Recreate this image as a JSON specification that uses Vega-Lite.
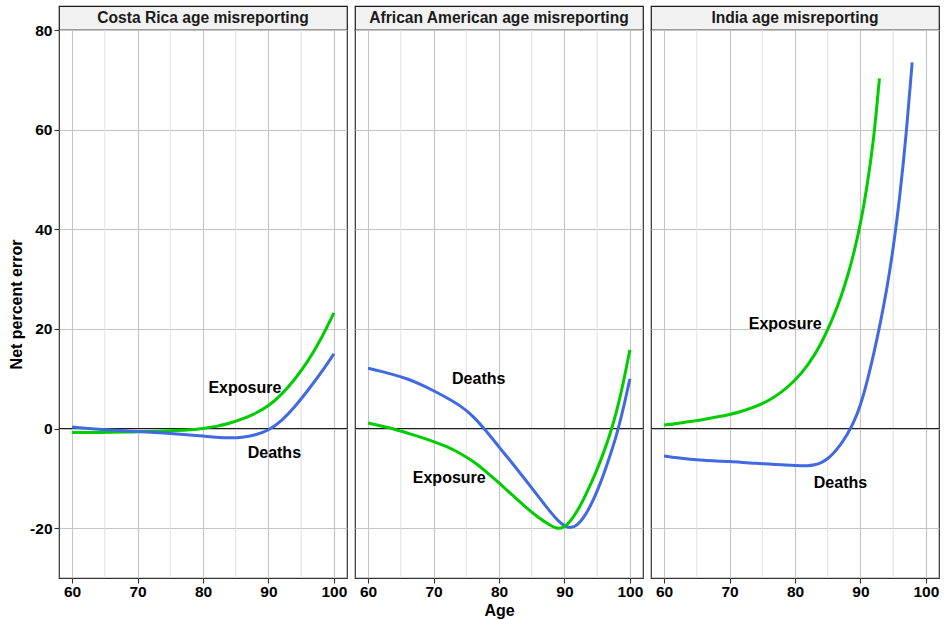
{
  "$schema": "https://vega.github.io/schema/vega-lite/v6.json",
  "background": "white",
  "padding": {"left": 7, "top": 5, "right": 3, "bottom": 3},
  "config": {
    "font": "Liberation Sans",
    "axis": {
      "labelFont": "Liberation Sans", "labelFontWeight": "bold", "labelFontSize": 15.5, "labelColor": "#000000",
      "titleFont": "Liberation Sans", "titleFontWeight": "bold", "titleFontSize": 16, "titleColor": "#000000",
      "tickColor": "#333333", "tickSize": 5, "tickWidth": 1.1, "domain": false,
      "gridColor": "#c4c4c4", "gridWidth": 1.1, "labelFlush": false, "labelPadding": 1,
      "labelExpr": "'' + datum.value"
    }
  },
  "datasets": {
    "panels": [
      {"p": "CR", "title": "Costa Rica age misreporting"},
      {"p": "AA", "title": "African American age misreporting"},
      {"p": "IN", "title": "India age misreporting"}
    ],
    "minor": [{"age": 65}, {"age": 75}, {"age": 85}, {"age": 95}],
    "zero": [{"v": 0}],
    "labels": [
      {"p": "CR", "age": 86.4, "v": 8.1, "t": "Exposure"},
      {"p": "CR", "age": 90.9, "v": -4.9, "t": "Deaths"},
      {"p": "AA", "age": 76.9, "v": 10.0, "t": "Deaths"},
      {"p": "AA", "age": 72.4, "v": -9.9, "t": "Exposure"},
      {"p": "IN", "age": 78.5, "v": 20.9, "t": "Exposure"},
      {"p": "IN", "age": 86.95, "v": -11.0, "t": "Deaths"}
    ],
    "curves": [
      {"p": "CR", "s": "Exposure", "age": 60, "v": -0.8},
      {"p": "CR", "s": "Exposure", "age": 62, "v": -0.8},
      {"p": "CR", "s": "Exposure", "age": 64, "v": -0.8},
      {"p": "CR", "s": "Exposure", "age": 66, "v": -0.75},
      {"p": "CR", "s": "Exposure", "age": 68, "v": -0.7},
      {"p": "CR", "s": "Exposure", "age": 70, "v": -0.65},
      {"p": "CR", "s": "Exposure", "age": 72, "v": -0.6},
      {"p": "CR", "s": "Exposure", "age": 74, "v": -0.5},
      {"p": "CR", "s": "Exposure", "age": 76, "v": -0.4},
      {"p": "CR", "s": "Exposure", "age": 78, "v": -0.25},
      {"p": "CR", "s": "Exposure", "age": 80, "v": 0.0},
      {"p": "CR", "s": "Exposure", "age": 82, "v": 0.4},
      {"p": "CR", "s": "Exposure", "age": 84, "v": 1.0},
      {"p": "CR", "s": "Exposure", "age": 86, "v": 1.9},
      {"p": "CR", "s": "Exposure", "age": 88, "v": 3.0},
      {"p": "CR", "s": "Exposure", "age": 90, "v": 4.5},
      {"p": "CR", "s": "Exposure", "age": 92, "v": 6.8},
      {"p": "CR", "s": "Exposure", "age": 94, "v": 9.8},
      {"p": "CR", "s": "Exposure", "age": 96, "v": 13.4},
      {"p": "CR", "s": "Exposure", "age": 98, "v": 17.8},
      {"p": "CR", "s": "Exposure", "age": 100, "v": 23.2},
      {"p": "CR", "s": "Deaths", "age": 60, "v": 0.3},
      {"p": "CR", "s": "Deaths", "age": 62, "v": 0.05},
      {"p": "CR", "s": "Deaths", "age": 64, "v": -0.15},
      {"p": "CR", "s": "Deaths", "age": 66, "v": -0.3},
      {"p": "CR", "s": "Deaths", "age": 68, "v": -0.45},
      {"p": "CR", "s": "Deaths", "age": 70, "v": -0.6},
      {"p": "CR", "s": "Deaths", "age": 72, "v": -0.75},
      {"p": "CR", "s": "Deaths", "age": 74, "v": -0.9},
      {"p": "CR", "s": "Deaths", "age": 76, "v": -1.1},
      {"p": "CR", "s": "Deaths", "age": 78, "v": -1.3},
      {"p": "CR", "s": "Deaths", "age": 80, "v": -1.5},
      {"p": "CR", "s": "Deaths", "age": 82, "v": -1.75},
      {"p": "CR", "s": "Deaths", "age": 84, "v": -1.9},
      {"p": "CR", "s": "Deaths", "age": 86, "v": -1.8},
      {"p": "CR", "s": "Deaths", "age": 88, "v": -1.3},
      {"p": "CR", "s": "Deaths", "age": 90, "v": -0.4},
      {"p": "CR", "s": "Deaths", "age": 92, "v": 1.5},
      {"p": "CR", "s": "Deaths", "age": 94, "v": 4.3},
      {"p": "CR", "s": "Deaths", "age": 96, "v": 7.6},
      {"p": "CR", "s": "Deaths", "age": 98, "v": 11.1},
      {"p": "CR", "s": "Deaths", "age": 100, "v": 15.0},
      {"p": "AA", "s": "Deaths", "age": 60, "v": 12.1},
      {"p": "AA", "s": "Deaths", "age": 62, "v": 11.5},
      {"p": "AA", "s": "Deaths", "age": 64, "v": 10.8},
      {"p": "AA", "s": "Deaths", "age": 66, "v": 10.0},
      {"p": "AA", "s": "Deaths", "age": 68, "v": 8.9},
      {"p": "AA", "s": "Deaths", "age": 70, "v": 7.6},
      {"p": "AA", "s": "Deaths", "age": 72, "v": 6.2},
      {"p": "AA", "s": "Deaths", "age": 74, "v": 4.7},
      {"p": "AA", "s": "Deaths", "age": 76, "v": 2.6},
      {"p": "AA", "s": "Deaths", "age": 78, "v": -0.4},
      {"p": "AA", "s": "Deaths", "age": 80, "v": -3.7},
      {"p": "AA", "s": "Deaths", "age": 82, "v": -6.9},
      {"p": "AA", "s": "Deaths", "age": 84, "v": -10.2},
      {"p": "AA", "s": "Deaths", "age": 86, "v": -13.6},
      {"p": "AA", "s": "Deaths", "age": 88, "v": -17.0},
      {"p": "AA", "s": "Deaths", "age": 89, "v": -18.5},
      {"p": "AA", "s": "Deaths", "age": 90, "v": -19.6},
      {"p": "AA", "s": "Deaths", "age": 91, "v": -20.0},
      {"p": "AA", "s": "Deaths", "age": 92, "v": -19.4},
      {"p": "AA", "s": "Deaths", "age": 93, "v": -17.8},
      {"p": "AA", "s": "Deaths", "age": 94, "v": -15.5},
      {"p": "AA", "s": "Deaths", "age": 95, "v": -12.6},
      {"p": "AA", "s": "Deaths", "age": 96, "v": -9.2},
      {"p": "AA", "s": "Deaths", "age": 97, "v": -5.3},
      {"p": "AA", "s": "Deaths", "age": 98, "v": -1.2},
      {"p": "AA", "s": "Deaths", "age": 99, "v": 4.0},
      {"p": "AA", "s": "Deaths", "age": 100, "v": 10.0},
      {"p": "AA", "s": "Exposure", "age": 60, "v": 1.1},
      {"p": "AA", "s": "Exposure", "age": 62, "v": 0.5},
      {"p": "AA", "s": "Exposure", "age": 64, "v": -0.1},
      {"p": "AA", "s": "Exposure", "age": 66, "v": -0.9},
      {"p": "AA", "s": "Exposure", "age": 68, "v": -1.7},
      {"p": "AA", "s": "Exposure", "age": 70, "v": -2.6},
      {"p": "AA", "s": "Exposure", "age": 72, "v": -3.6},
      {"p": "AA", "s": "Exposure", "age": 74, "v": -4.9},
      {"p": "AA", "s": "Exposure", "age": 76, "v": -6.5},
      {"p": "AA", "s": "Exposure", "age": 78, "v": -8.6},
      {"p": "AA", "s": "Exposure", "age": 80, "v": -10.9},
      {"p": "AA", "s": "Exposure", "age": 82, "v": -13.3},
      {"p": "AA", "s": "Exposure", "age": 84, "v": -15.7},
      {"p": "AA", "s": "Exposure", "age": 86, "v": -17.9},
      {"p": "AA", "s": "Exposure", "age": 88, "v": -19.6},
      {"p": "AA", "s": "Exposure", "age": 89, "v": -20.2},
      {"p": "AA", "s": "Exposure", "age": 90, "v": -19.8},
      {"p": "AA", "s": "Exposure", "age": 91, "v": -18.5},
      {"p": "AA", "s": "Exposure", "age": 92, "v": -16.5},
      {"p": "AA", "s": "Exposure", "age": 93, "v": -14.0},
      {"p": "AA", "s": "Exposure", "age": 94, "v": -11.2},
      {"p": "AA", "s": "Exposure", "age": 95, "v": -8.2},
      {"p": "AA", "s": "Exposure", "age": 96, "v": -4.8},
      {"p": "AA", "s": "Exposure", "age": 97, "v": -1.0},
      {"p": "AA", "s": "Exposure", "age": 98, "v": 3.5},
      {"p": "AA", "s": "Exposure", "age": 99, "v": 9.2},
      {"p": "AA", "s": "Exposure", "age": 100, "v": 15.8},
      {"p": "IN", "s": "Exposure", "age": 60, "v": 0.7},
      {"p": "IN", "s": "Exposure", "age": 62, "v": 1.0},
      {"p": "IN", "s": "Exposure", "age": 64, "v": 1.4},
      {"p": "IN", "s": "Exposure", "age": 66, "v": 1.8},
      {"p": "IN", "s": "Exposure", "age": 68, "v": 2.3},
      {"p": "IN", "s": "Exposure", "age": 70, "v": 2.8},
      {"p": "IN", "s": "Exposure", "age": 72, "v": 3.5},
      {"p": "IN", "s": "Exposure", "age": 74, "v": 4.4},
      {"p": "IN", "s": "Exposure", "age": 76, "v": 5.6},
      {"p": "IN", "s": "Exposure", "age": 78, "v": 7.3},
      {"p": "IN", "s": "Exposure", "age": 80, "v": 9.6},
      {"p": "IN", "s": "Exposure", "age": 82, "v": 12.7},
      {"p": "IN", "s": "Exposure", "age": 84, "v": 16.9},
      {"p": "IN", "s": "Exposure", "age": 86, "v": 22.8},
      {"p": "IN", "s": "Exposure", "age": 87, "v": 26.3},
      {"p": "IN", "s": "Exposure", "age": 88, "v": 30.4},
      {"p": "IN", "s": "Exposure", "age": 89, "v": 35.2},
      {"p": "IN", "s": "Exposure", "age": 90, "v": 41.0},
      {"p": "IN", "s": "Exposure", "age": 91, "v": 48.5},
      {"p": "IN", "s": "Exposure", "age": 92, "v": 57.5},
      {"p": "IN", "s": "Exposure", "age": 92.9, "v": 70.3},
      {"p": "IN", "s": "Deaths", "age": 60, "v": -5.5},
      {"p": "IN", "s": "Deaths", "age": 62, "v": -5.9},
      {"p": "IN", "s": "Deaths", "age": 64, "v": -6.2},
      {"p": "IN", "s": "Deaths", "age": 66, "v": -6.4},
      {"p": "IN", "s": "Deaths", "age": 68, "v": -6.5},
      {"p": "IN", "s": "Deaths", "age": 70, "v": -6.6},
      {"p": "IN", "s": "Deaths", "age": 72, "v": -6.8},
      {"p": "IN", "s": "Deaths", "age": 74, "v": -7.0},
      {"p": "IN", "s": "Deaths", "age": 76, "v": -7.1},
      {"p": "IN", "s": "Deaths", "age": 78, "v": -7.3},
      {"p": "IN", "s": "Deaths", "age": 80, "v": -7.4},
      {"p": "IN", "s": "Deaths", "age": 82, "v": -7.5},
      {"p": "IN", "s": "Deaths", "age": 83, "v": -7.3},
      {"p": "IN", "s": "Deaths", "age": 84, "v": -6.9},
      {"p": "IN", "s": "Deaths", "age": 85, "v": -6.1},
      {"p": "IN", "s": "Deaths", "age": 86, "v": -4.8},
      {"p": "IN", "s": "Deaths", "age": 87, "v": -3.2},
      {"p": "IN", "s": "Deaths", "age": 88, "v": -1.2},
      {"p": "IN", "s": "Deaths", "age": 89, "v": 1.3},
      {"p": "IN", "s": "Deaths", "age": 90, "v": 4.6},
      {"p": "IN", "s": "Deaths", "age": 91, "v": 9.3},
      {"p": "IN", "s": "Deaths", "age": 92, "v": 14.8},
      {"p": "IN", "s": "Deaths", "age": 93, "v": 20.9},
      {"p": "IN", "s": "Deaths", "age": 94, "v": 27.7},
      {"p": "IN", "s": "Deaths", "age": 95, "v": 36.0},
      {"p": "IN", "s": "Deaths", "age": 96, "v": 46.3},
      {"p": "IN", "s": "Deaths", "age": 97, "v": 59.0},
      {"p": "IN", "s": "Deaths", "age": 97.9, "v": 73.5}
    ]
  },
  "spacing": 4,
  "hconcat": [
    {
      "bounds": "flush",
      "spacing": 0,
      "vconcat": [
        {
          "width": 288, "height": 24,
          "view": {"fill": "#f2f2f2", "stroke": "#1a1a1a", "strokeWidth": 1.2},
          "data": {"name": "panels"},
          "transform": [{"filter": "datum.p == 'CR'"}],
          "mark": {"type": "text", "font": "Liberation Sans", "fontSize": 15.6, "fontWeight": "bold", "color": "#1a1a1a"},
          "encoding": {"text": {"field": "title"}}
        },
        {
          "width": 288, "height": 548,
          "view": {"fill": "white", "stroke": "#333333", "strokeWidth": 1.2},
          "layer": [
            {
              "data": {"name": "minor"},
              "mark": {"type": "rule", "color": "#e4e4e4", "strokeWidth": 1.1},
              "encoding": {"x": {"field": "age", "type": "quantitative", "scale": {"domain": [58, 102], "nice": false, "zero": false}}}
            },
            {
              "data": {"name": "zero"},
              "mark": {"type": "rule", "color": "#1a1a1a", "strokeWidth": 1.1},
              "encoding": {"y": {"field": "v", "type": "quantitative", "scale": {"domain": [-30, 80], "nice": false, "zero": false}}}
            },
            {
              "data": {"name": "curves"},
              "transform": [{"filter": "datum.p == 'CR'"}],
              "mark": {"type": "line", "strokeWidth": 3, "interpolate": "basis"},
              "encoding": {
                "x": {"field": "age", "type": "quantitative", "scale": {"domain": [58, 102], "nice": false, "zero": false},
                      "axis": {"values": [60, 70, 80, 90, 100], "title": null, "grid": true}},
                "y": {"field": "v", "type": "quantitative", "scale": {"domain": [-30, 80], "nice": false, "zero": false},
                      "axis": {"values": [-20, 0, 20, 40, 60, 80], "title": "Net percent error", "grid": true, "titlePadding": 5, "labelPadding": 2}},
                "color": {"field": "s", "type": "nominal", "scale": {"domain": ["Exposure", "Deaths"], "range": ["#00CD00", "#4169E1"]}, "legend": null}
              }
            },
            {
              "data": {"name": "labels"},
              "transform": [{"filter": "datum.p == 'CR'"}],
              "mark": {"type": "text", "font": "Liberation Sans", "fontSize": 16, "fontWeight": "bold", "color": "#000000"},
              "encoding": {
                "x": {"field": "age", "type": "quantitative"},
                "y": {"field": "v", "type": "quantitative"},
                "text": {"field": "t"}
              }
            }
          ]
        }
      ]
    },
    {
      "bounds": "flush",
      "spacing": 0,
      "vconcat": [
        {
          "width": 288, "height": 24,
          "view": {"fill": "#f2f2f2", "stroke": "#1a1a1a", "strokeWidth": 1.2},
          "data": {"name": "panels"},
          "transform": [{"filter": "datum.p == 'AA'"}],
          "mark": {"type": "text", "font": "Liberation Sans", "fontSize": 15.6, "fontWeight": "bold", "color": "#1a1a1a"},
          "encoding": {"text": {"field": "title"}}
        },
        {
          "width": 288, "height": 548,
          "view": {"fill": "white", "stroke": "#333333", "strokeWidth": 1.2},
          "layer": [
            {
              "data": {"name": "minor"},
              "mark": {"type": "rule", "color": "#e4e4e4", "strokeWidth": 1.1},
              "encoding": {"x": {"field": "age", "type": "quantitative", "scale": {"domain": [58, 102], "nice": false, "zero": false}}}
            },
            {
              "data": {"name": "zero"},
              "mark": {"type": "rule", "color": "#1a1a1a", "strokeWidth": 1.1},
              "encoding": {"y": {"field": "v", "type": "quantitative", "scale": {"domain": [-30, 80], "nice": false, "zero": false}}}
            },
            {
              "data": {"name": "curves"},
              "transform": [{"filter": "datum.p == 'AA'"}],
              "mark": {"type": "line", "strokeWidth": 3, "interpolate": "basis"},
              "encoding": {
                "x": {"field": "age", "type": "quantitative", "scale": {"domain": [58, 102], "nice": false, "zero": false},
                      "axis": {"values": [60, 70, 80, 90, 100], "title": "Age", "grid": true, "titlePadding": 3}},
                "y": {"field": "v", "type": "quantitative", "scale": {"domain": [-30, 80], "nice": false, "zero": false},
                      "axis": {"values": [-20, 0, 20, 40, 60, 80], "title": null, "grid": true, "labels": false, "ticks": false}},
                "color": {"field": "s", "type": "nominal", "scale": {"domain": ["Exposure", "Deaths"], "range": ["#00CD00", "#4169E1"]}, "legend": null}
              }
            },
            {
              "data": {"name": "labels"},
              "transform": [{"filter": "datum.p == 'AA'"}],
              "mark": {"type": "text", "font": "Liberation Sans", "fontSize": 16, "fontWeight": "bold", "color": "#000000"},
              "encoding": {
                "x": {"field": "age", "type": "quantitative"},
                "y": {"field": "v", "type": "quantitative"},
                "text": {"field": "t"}
              }
            }
          ]
        }
      ]
    },
    {
      "bounds": "flush",
      "spacing": 0,
      "vconcat": [
        {
          "width": 288, "height": 24,
          "view": {"fill": "#f2f2f2", "stroke": "#1a1a1a", "strokeWidth": 1.2},
          "data": {"name": "panels"},
          "transform": [{"filter": "datum.p == 'IN'"}],
          "mark": {"type": "text", "font": "Liberation Sans", "fontSize": 15.6, "fontWeight": "bold", "color": "#1a1a1a"},
          "encoding": {"text": {"field": "title"}}
        },
        {
          "width": 288, "height": 548,
          "view": {"fill": "white", "stroke": "#333333", "strokeWidth": 1.2},
          "layer": [
            {
              "data": {"name": "minor"},
              "mark": {"type": "rule", "color": "#e4e4e4", "strokeWidth": 1.1},
              "encoding": {"x": {"field": "age", "type": "quantitative", "scale": {"domain": [58, 102], "nice": false, "zero": false}}}
            },
            {
              "data": {"name": "zero"},
              "mark": {"type": "rule", "color": "#1a1a1a", "strokeWidth": 1.1},
              "encoding": {"y": {"field": "v", "type": "quantitative", "scale": {"domain": [-30, 80], "nice": false, "zero": false}}}
            },
            {
              "data": {"name": "curves"},
              "transform": [{"filter": "datum.p == 'IN'"}],
              "mark": {"type": "line", "strokeWidth": 3, "interpolate": "basis"},
              "encoding": {
                "x": {"field": "age", "type": "quantitative", "scale": {"domain": [58, 102], "nice": false, "zero": false},
                      "axis": {"values": [60, 70, 80, 90, 100], "title": null, "grid": true}},
                "y": {"field": "v", "type": "quantitative", "scale": {"domain": [-30, 80], "nice": false, "zero": false},
                      "axis": {"values": [-20, 0, 20, 40, 60, 80], "title": null, "grid": true, "labels": false, "ticks": false}},
                "color": {"field": "s", "type": "nominal", "scale": {"domain": ["Exposure", "Deaths"], "range": ["#00CD00", "#4169E1"]}, "legend": null}
              }
            },
            {
              "data": {"name": "labels"},
              "transform": [{"filter": "datum.p == 'IN'"}],
              "mark": {"type": "text", "font": "Liberation Sans", "fontSize": 16, "fontWeight": "bold", "color": "#000000"},
              "encoding": {
                "x": {"field": "age", "type": "quantitative"},
                "y": {"field": "v", "type": "quantitative"},
                "text": {"field": "t"}
              }
            }
          ]
        }
      ]
    }
  ]
}
